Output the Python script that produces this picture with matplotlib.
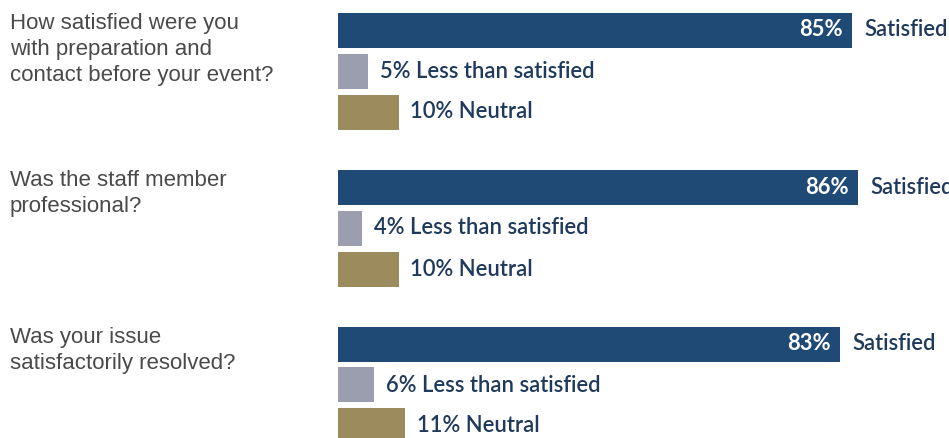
import matplotlib
matplotlib.use("Agg")
import matplotlib.pyplot as plt

questions = [
    "How satisfied were you\nwith preparation and\ncontact before your event?",
    "Was the staff member\nprofessional?",
    "Was your issue\nsatisfactorily resolved?",
]
satisfied = [85, 86, 83]
less_than_satisfied = [5, 4, 6]
neutral = [10, 10, 11]
category_names = ["Satisfied", "Less than satisfied", "Neutral"]

colors = ["#1f4a76", "#9a9eae", "#9c8b5c"]
label_color = "#1f3a5c"
question_color = "#4a4a4a"

W, H, DPI = 949, 438, 100
fig = plt.figure(figsize=(W / DPI, H / DPI), dpi=DPI)

# bar area starts at x=338 px and runs off the right edge of the figure
x0_px = 338
ax = fig.add_axes([x0_px / W, 0, 1 - x0_px / W, 1])
px_per_pct = 6.05
ax.set_xlim(0, (W - x0_px) / px_per_pct)

row_px = 41.0
group_px = 157.0
first_center_px = 30.0
gap = group_px / row_px
ax.set_ylim((H - first_center_px) / row_px, -first_center_px / row_px)
ax.axis("off")

bar_h = 35 / row_px
pad = 12 / px_per_pct
lab_font = dict(family=["Lato", "DejaVu Sans"], fontsize=15.8, va="center")

for i, q in enumerate(questions):
    base = i * gap
    vals = [satisfied[i], less_than_satisfied[i], neutral[i]]
    for j, v in enumerate(vals):
        y = base + j
        ax.barh(y, v, height=bar_h, color=colors[j], edgecolor="none")
        if j == 0:
            ax.text(v - pad * 0.8, y, f"{v}%", color="white", ha="right",
                    fontweight="bold", **lab_font)
            ax.text(v + pad, y, category_names[j], color=label_color, ha="left",
                    fontweight="semibold", clip_on=False, **lab_font)
        else:
            ax.text(v + pad, y, f"{v}% {category_names[j]}", color=label_color,
                    ha="left", fontweight="semibold", **lab_font)
    # question text, top aligned with the first bar of the group
    top_px = first_center_px + base * row_px - 35 / 2
    fig.text(10 / W, 1 - top_px / H, q, ha="left", va="top",
             family=["Liberation Sans", "DejaVu Sans"], fontsize=16,
             color=question_color, linespacing=1.33)

fig.savefig("out.png", dpi=DPI, facecolor="white")
